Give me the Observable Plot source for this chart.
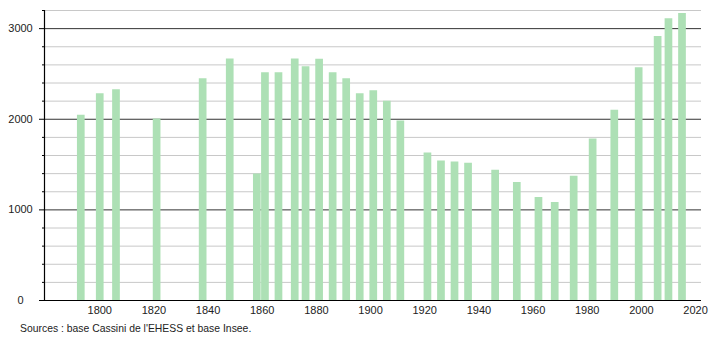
<!DOCTYPE html>
<html>
<head>
<meta charset="utf-8">
<script src="https://cdn.jsdelivr.net/npm/d3@7"></script>
<script src="https://cdn.jsdelivr.net/npm/@observablehq/plot@0.6"></script>
<style>
  body { margin: 0; background: #fff; font-family: "Liberation Sans", Arial, sans-serif; }
  #caption { font-size: 10.4px; line-height: 14px; color: #222; padding-left: 20px; margin-top: 2px; }
  svg { display: block; }
</style>
</head>
<body>
<div id="chart"></div>
<div id="caption">Sources : base Cassini de l'EHESS et base Insee.</div>
<script>
const years = [1793,1800,1806,1821,1838,1848,1858,1861,1866,1872,1876,1881,1886,1891,1896,1901,1906,1911,1921,1926,1931,1936,1946,1954,1962,1968,1975,1982,1990,1999,2006,2010,2015];
const population = [2045,2281,2325,2004,2447,2665,1395,2514,2514,2665,2580,2661,2514,2447,2281,2314,2200,1982,1628,1539,1528,1514,1436,1303,1137,1082,1370,1783,2100,2569,2912,3108,3167];
const xTicks = [1800,1820,1840,1860,1880,1900,1920,1940,1960,1980,2000,2020];
const majorTicks = [0,1000,2000,3000];
const minorTicks = [200,400,600,800,1200,1400,1600,1800,2200,2400,2600,2800,3200];
const xDomain = [1779.6, 2022.2];
const yDomain = [0, 3200];

const data = years.map((y, i) => ({year: y, pop: population[i]}));

const chart = Plot.plot({
  width: 710,
  height: 320,
  marginTop: 10,
  marginBottom: 20,
  marginLeft: 44,
  marginRight: 9,
  style: {fontFamily: "Liberation Sans, Arial, sans-serif", fontSize: "11px", color: "#222", background: "#fff"},
  x: {domain: xDomain, label: null},
  y: {domain: yDomain, label: null},
  marks: [
    Plot.ruleY(minorTicks, {stroke: "#c8c8c8", strokeWidth: 1}),
    Plot.ruleY(majorTicks.slice(1), {stroke: "#333", strokeWidth: 1}),
    Plot.ruleX(data, {x: "year", y1: 0, y2: "pop", stroke: "#ade0b5", strokeWidth: 7.7}),
    Plot.ruleX([xDomain[0]], {y1: 0, y2: yDomain[1], stroke: "#000", strokeWidth: 1.2}),
    Plot.ruleY([0], {stroke: "#000", strokeWidth: 1.2}),
    Plot.axisY(minorTicks, {tickSize: 2, tickFormat: () => "", stroke: "#000", label: null}),
    Plot.axisY(majorTicks, {tickSize: 5, tickPadding: 19, textAnchor: "middle", tickFormat: d => String(d), stroke: "#000", fill: "#222", label: null}),
    Plot.axisX(xTicks, {tickSize: 0, tickPadding: 6, tickFormat: d => String(d), fill: "#222", label: null})
  ]
});
document.getElementById("chart").appendChild(chart);
</script>
</body>
</html>
